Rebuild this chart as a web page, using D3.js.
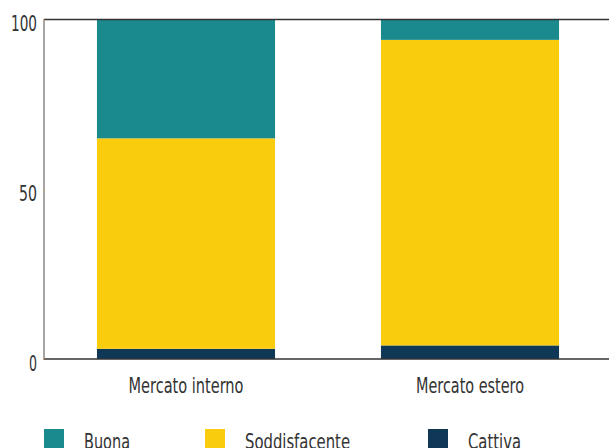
<!DOCTYPE html>
<html><head><meta charset="utf-8">
<script src="https://cdn.jsdelivr.net/npm/d3@7"></script>
<style>
body{margin:0;background:#fff;}
svg text{font-family:"DejaVu Sans Condensed","DejaVu Sans",sans-serif;font-stretch:condensed;fill:#333;}
</style></head>
<body>
<svg id="c" width="609" height="448"></svg>
<script>
const categories = ["Mercato interno", "Mercato estero"];
const seriesNames = ["Cattiva", "Soddisfacente", "Buona"];
const cattiva = [3, 4];
const soddisfacente = [62, 90];
const buona = [35, 6];
const yTicks = [0, 50, 100];
const legendOrder = ["Buona", "Soddisfacente", "Cattiva"];
const colors = {"Buona":"#1a8a8f","Soddisfacente":"#f9cc0e","Cattiva":"#0f3857"};

(function(){
const textWidths = {"Mercato interno":115,"Mercato estero":108,"Buona":46,"Soddisfacente":105,"Cattiva":53,"100":26,"50":18,"0":8};
const svg = d3.select("#c");
const pLeft = 44, pRight = 612, pTop = 19.5, pBottom = 359;
const x = d3.scaleBand().domain(categories).range([pLeft, pRight]).paddingInner(0.373).paddingOuter(0.1865);
const y = d3.scaleLinear().domain([0, 100]).range([pBottom, pTop]);

const rows = categories.map((c, i) => ({cat: c, Cattiva: cattiva[i], Soddisfacente: soddisfacente[i], Buona: buona[i]}));
const stacked = d3.stack().keys(seriesNames)(rows);

svg.append("g").selectAll("g").data(stacked).join("g")
  .attr("fill", d => colors[d.key])
  .selectAll("rect").data(d => d).join("rect")
  .attr("x", d => x(d.data.cat))
  .attr("width", x.bandwidth())
  .attr("y", d => y(d[1]))
  .attr("height", d => y(d[0]) - y(d[1]));

svg.append("line").attr("x1", pLeft).attr("x2", 609).attr("y1", y(100)).attr("y2", y(100)).attr("stroke", "#333").attr("stroke-width", 1.5);
svg.append("line").attr("x1", pLeft).attr("x2", 609).attr("y1", y(0)).attr("y2", y(0)).attr("stroke", "#333").attr("stroke-width", 1.5);
svg.append("line").attr("x1", pLeft).attr("x2", pLeft).attr("y1", y(100)).attr("y2", y(0)).attr("stroke", "#888").attr("stroke-width", 1.5);

function fit(sel){
  sel.each(function(){
    const t = this.textContent;
    if (textWidths[t]) d3.select(this).attr("textLength", textWidths[t]).attr("lengthAdjust", "spacingAndGlyphs");
  });
}

const yAxis = d3.axisLeft(y).tickValues(yTicks).tickSize(1).tickPadding(6);
const gy = svg.append("g").attr("transform", `translate(${pLeft},0)`).call(yAxis);
gy.attr("font-family", null).attr("font-size", null);
gy.select(".domain").remove();
gy.selectAll(".tick line").attr("stroke", "#e0a040");
gy.selectAll(".tick text").attr("font-size", 20.5).attr("fill", "#333").attr("dy", null).attr("y", 11).call(fit);

const xAxis = d3.axisBottom(x).tickSize(0).tickPadding(18);
const gx = svg.append("g").attr("transform", `translate(0,${pBottom})`).call(xAxis);
gx.attr("font-family", null).attr("font-size", null);
gx.select(".domain").remove();
gx.selectAll(".tick text").attr("font-size", 20.5).attr("fill", "#333").attr("dy", null).attr("y", 33.5).call(fit);

const legX = [44, 205, 428];
const leg = svg.append("g").selectAll("g").data(legendOrder).join("g")
  .attr("transform", (d, i) => `translate(${legX[i]},429)`);
leg.append("rect").attr("width", 20).attr("height", 20).attr("fill", d => colors[d]);
leg.append("text").attr("x", 40).attr("y", 19.5).attr("font-size", 20.5).text(d => d).call(fit);
})();
</script>
</body></html>
